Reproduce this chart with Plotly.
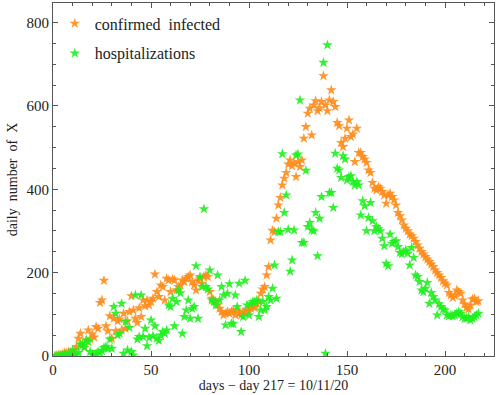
import plotly.graph_objects as go

# ---- data ----
confirmed = [0, 1, 3, 2, 5, 8, 7, 10, 8, 3,
             14, 22, 42, 54, 30, 24, 38, 62, 40, 52,
             45, 70, 66, 128, 134, 181, 72, 60, 96, 42,
             90, 60, 84, 88, 62, 102, 66, 84, 106, 144,
             110, 90, 80, 115, 94, 134, 120, 134, 122, 130,
             138, 196, 154, 142, 170, 166, 134, 186, 182, 154,
             184, 182, 158, 166, 170, 182, 178, 186, 190, 194,
             178, 170, 158, 182, 186, 174, 190, 194, 190, 154,
             138, 134, 130, 122, 114, 106, 98, 102, 106, 102,
             106, 110, 98, 110, 102, 98, 106, 104, 110, 108,
             114, 118, 116, 126, 132, 150, 160, 166, 194, 214,
             278, 301, 298, 330, 362, 380, 410, 426, 440, 460,
             470, 456, 462, 430, 466, 454, 470, 522, 550, 582,
             594, 530, 602, 612, 588, 595, 610, 672, 602, 588,
             614, 638, 610, 598, 560, 552, 512, 502, 522, 546,
             566, 526, 532, 466, 546, 488, 488, 478, 472, 464,
             446, 440, 416, 402, 398, 406, 402, 394, 386, 366,
             386, 390, 382, 374, 362, 344, 336, 326, 314, 306,
             300, 292, 288, 282, 274, 266, 258, 250, 244, 238,
             232, 226, 220, 214, 206, 200, 194, 188, 180, 174,
             170, 152, 146, 140, 145, 158, 154, 150, 134, 124,
             116, 112, 122, 136, 138, 130, 132]

hospitalizations = [0, 0, 0, 1, 0, 2, 1, 3, 2, 14,
                    4, 2, 8, 28, 26, 20, 38, 34, 10, 3,
                    2, 6, 10, 8, 12, 20, 22, 18, 40, 18,
                    118, 102, 50, 54, 126, 6, 82, 14, 68, 10,
                    2, 146, 40, 46, 146, 46, 66, 24, 44, 86,
                    48, 72, 42, 37, 50, 58, 54, 62, 122, 118,
                    138, 72, 130, 158, 151, 54, 94, 110, 134, 90,
                    114, 118, 216, 90, 190, 166, 353, 166, 160, 206,
                    134, 130, 122, 194, 134, 166, 146, 74, 150, 173,
                    78, 77, 146, 118, 174, 58, 94, 181, 122, 98,
                    126, 130, 130, 134, 94, 110, 130, 110, 118, 142,
                    134, 162, 218, 138, 298, 298, 485, 344, 386, 303,
                    203, 230, 302, 482, 484, 614, 272, 272, 445, 310,
                    320, 302, 300, 344, 240, 330, 382, 704, 6, 746,
                    392, 392, 356, 486, 450, 446, 428, 480, 472, 422,
                    430, 432, 418, 410, 418, 410, 338, 372, 360, 300,
                    332, 368, 324, 300, 310, 305, 300, 282, 264, 222,
                    216, 292, 270, 274, 276, 262, 248, 245, 250, 254,
                    246, 218, 260, 236, 194, 190, 178, 158, 154, 162,
                    176, 126, 152, 142, 134, 98, 125, 118, 112, 110,
                    98, 96, 98, 96, 98, 102, 106, 102, 94, 90,
                    90, 94, 86, 90, 94, 98, 102]

days_c = list(range(1, len(confirmed) + 1))
days_h = list(range(1, len(hospitalizations) + 1))

x_ticks = [0, 50, 100, 150, 200]
y_ticks = [0, 200, 400, 600, 800]

FONT = "Liberation Serif"
AXIS_COLOR = "#555555"

fig = go.Figure()
fig.add_trace(go.Scatter(
    x=days_c, y=confirmed, mode="markers", name="confirmed  infected",
    marker=dict(symbol="star", size=8, color="#FF8C1A", opacity=0.9, line=dict(width=0)),
    legendgroup="a",
))
fig.add_trace(go.Scatter(
    x=days_h, y=hospitalizations, mode="markers", name="hospitalizations",
    marker=dict(symbol="star", size=8, color="#1EF01E", opacity=0.9, line=dict(width=0)),
    legendgroup="b",
))

axis_common = dict(
    showline=True, linecolor=AXIS_COLOR, linewidth=1, mirror="ticks",
    ticks="inside", ticklen=5, tickcolor=AXIS_COLOR, tickwidth=1,
    showgrid=False, zeroline=False,
    tickfont=dict(family=FONT, size=15, color="#222222"),
)

fig.update_layout(
    width=496, height=395,
    margin=dict(l=53, r=2, t=3, b=39),
    paper_bgcolor="white", plot_bgcolor="white",
    font=dict(family=FONT, size=14, color="#222222"),
    xaxis=dict(
        range=[0, 225], tickvals=x_ticks, ticktext=[str(v) for v in x_ticks],
        minor=dict(dtick=10, ticks="inside", ticklen=3, tickcolor=AXIS_COLOR, showgrid=False),
        title=dict(text="days \u2212 day 217 = 10/11/20", font=dict(family=FONT, size=14), standoff=3),
        **axis_common,
    ),
    yaxis=dict(
        range=[0, 847], tickvals=y_ticks, ticktext=[str(v) for v in y_ticks],
        minor=dict(dtick=50, ticks="inside", ticklen=3, tickcolor=AXIS_COLOR, showgrid=False),
        title=dict(text="daily  number  of  X", font=dict(family=FONT, size=14), standoff=5),
        **axis_common,
    ),
    showlegend=True,
    legend=dict(
        x=0.004, y=0.99, xanchor="left", yanchor="top",
        bgcolor="rgba(0,0,0,0)", borderwidth=0,
        font=dict(family=FONT, size=16, color="#222222"),
        tracegroupgap=6, traceorder="grouped", itemwidth=30,
    ),
)

fig.write_html("out.html")
